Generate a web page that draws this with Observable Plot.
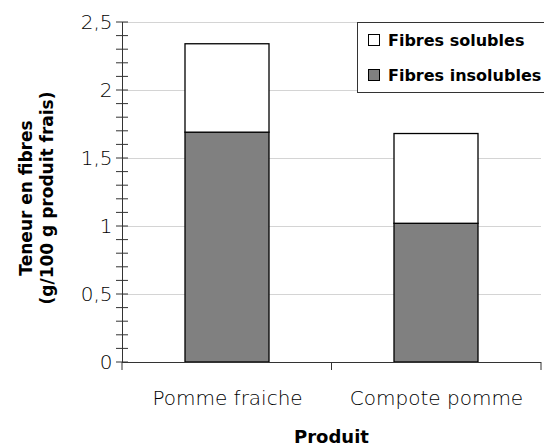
<!DOCTYPE html>
<html>
<head>
<meta charset="utf-8">
<script src="https://cdn.jsdelivr.net/npm/d3@7"></script>
<script src="https://cdn.jsdelivr.net/npm/@observablehq/plot@0.6"></script>
<style>
  html, body { margin: 0; padding: 0; background: #fff; }
  #wrap { position: relative; width: 544px; height: 446px; font-family: "DejaVu Sans", sans-serif; }
  #legend { position: absolute; left: 357px; top: 22px; width: 200px; height: 71px; border: 1px solid #333; background: #fff; box-sizing: border-box; font-weight: bold; font-size: 16px; color: #000; }
  .item { position: absolute; left: 10px; height: 20px; display: flex; align-items: center; white-space: nowrap; }
  .sw { width: 12px; height: 12px; border: 1px solid #000; margin-right: 8px; box-sizing: border-box; }
</style>
</head>
<body>
<div id="wrap"></div>
<script>
const products = ["Pomme fraiche", "Compote pomme"];
const series = ["Fibres insolubles", "Fibres solubles"];
const insolubles = [1.69, 1.02];
const solubles = [0.65, 0.66];
const yMajor = [0, 0.5, 1, 1.5, 2, 2.5];
const yMinor = d3.range(0, 26).map(i => i / 10);
const seriesColors = ["#808080", "#ffffff"];
const yTitle = ["Teneur en fibres", "(g/100 g produit frais)"];
const xTitle = "Produit";

const data = [];
products.forEach((p, i) => {
  data.push({product: p, series: series[0], value: insolubles[i]});
  data.push({product: p, series: series[1], value: solubles[i]});
});

const chart = Plot.plot({
  width: 544,
  height: 446,
  marginLeft: 122,
  marginRight: 3,
  marginTop: 22,
  marginBottom: 84,
  style: {fontFamily: "DejaVu Sans, sans-serif", fontSize: "20px", color: "#000", background: "#fff", overflow: "visible"},
  x: {domain: products, paddingInner: 0.6, paddingOuter: 0.3, label: null},
  y: {domain: [0, 2.5], label: null},
  color: {domain: series, range: seriesColors},
  marks: [
    Plot.gridY(yMajor.slice(1), {stroke: "#d4d4d4", strokeOpacity: 1}),
    Plot.barY(data, {x: "product", y: "value", fill: "series", stroke: "#000", strokeWidth: 1.3, order: series}),
    Plot.ruleY([0], {stroke: "#333"}),
    Plot.frame({anchor: "left", stroke: "#333"}),
    Plot.axisY({ticks: yMajor, tickSize: 0, tickPadding: 10, fontSize: 20, fontWeight: 200, tickFormat: d => String(d).replace(".", ",")}),
    Plot.axisX({tickSize: 0, tickPadding: 28, fontSize: 20, fontWeight: 200})
  ]
});

const svg = d3.select(chart);
const xs = chart.scale("x");
const ys = chart.scale("y");
const r = xs.range;
const y0 = ys.apply(0);
const xAxis = r[0];

svg.append("g").selectAll("line").data(yMinor).join("line")
  .attr("x1", xAxis - 6).attr("x2", xAxis + 6)
  .attr("y1", d => ys.apply(d)).attr("y2", d => ys.apply(d))
  .attr("stroke", "#333");

const bounds = [r[0], (xs.apply(products[0]) + xs.bandwidth + xs.apply(products[1])) / 2, r[1]];
svg.append("g").selectAll("line").data(bounds).join("line")
  .attr("x1", d => d).attr("x2", d => d)
  .attr("y1", y0).attr("y2", y0 + 8)
  .attr("stroke", "#333");

const cy = (ys.apply(0) + ys.apply(2.5)) / 2 + 6;
svg.append("g").selectAll("text").data(yTitle).join("text")
  .attr("transform", (d, i) => `translate(${32 + i * 21},${cy}) rotate(-90)`)
  .attr("text-anchor", "middle")
  .attr("font-weight", "bold")
  .attr("font-size", 17)
  .attr("fill", "#000")
  .text(d => d);

svg.append("text")
  .attr("x", (r[0] + r[1]) / 2)
  .attr("y", 443)
  .attr("text-anchor", "middle")
  .attr("font-weight", "bold")
  .attr("font-size", 18)
  .attr("fill", "#000")
  .text(xTitle);

const wrap = document.getElementById("wrap");
wrap.appendChild(chart);

const legend = document.createElement("div");
legend.id = "legend";
const legendOrder = [series[1], series[0]];
legendOrder.forEach((s, i) => {
  const it = document.createElement("div");
  it.className = "item";
  it.style.top = (i === 0 ? 7 : 42) + "px";
  const sw = document.createElement("div");
  sw.className = "sw";
  sw.style.background = seriesColors[series.indexOf(s)];
  const t = document.createElement("span");
  t.textContent = s;
  it.appendChild(sw);
  it.appendChild(t);
  legend.appendChild(it);
});
wrap.appendChild(legend);
</script>
</body>
</html>
